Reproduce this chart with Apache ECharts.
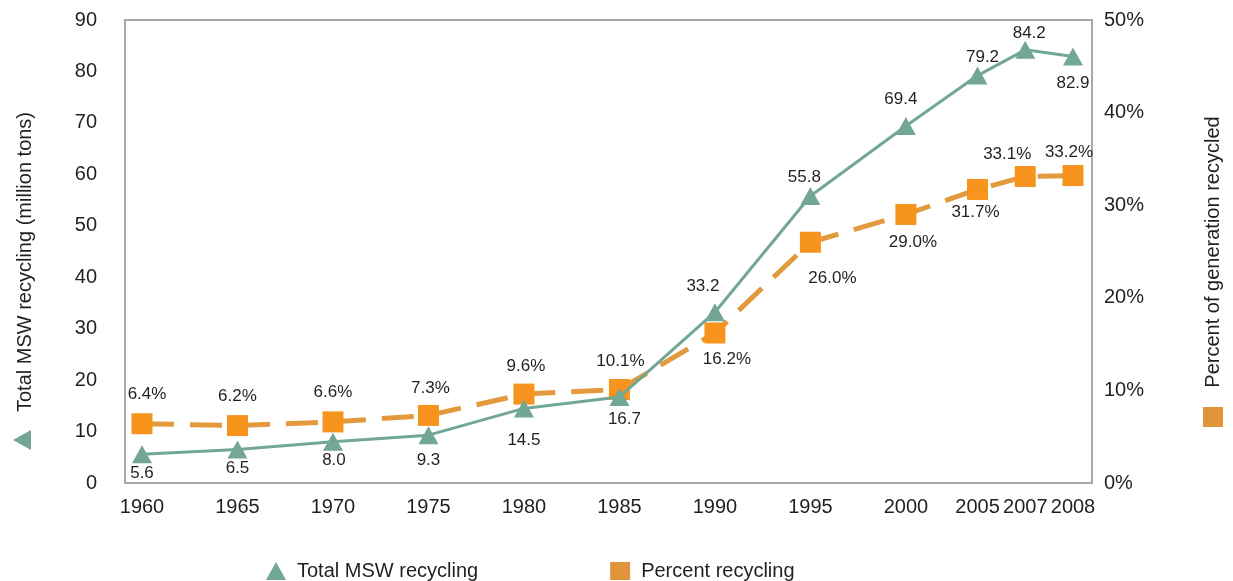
<!DOCTYPE html>
<html>
<head>
<meta charset="utf-8">
<script src="https://cdn.jsdelivr.net/npm/echarts@6/dist/echarts.min.js"></script>
<style>
html,body{margin:0;padding:0;background:#fff;}
#chart{width:1233px;height:581px;}
</style>
</head>
<body>
<div id="chart"></div>
<script>
// ---- data ----
const years = ['1960','1965','1970','1975','1980','1985','1990','1995','2000','2005','2007','2008'];
const totalMSW = [5.6, 6.5, 8.0, 9.3, 14.5, 16.7, 33.2, 55.8, 69.4, 79.2, 84.2, 82.9];
const pctRecycled = [6.4, 6.2, 6.6, 7.3, 9.6, 10.1, 16.2, 26.0, 29.0, 31.7, 33.1, 33.2];
const leftTicks = [0, 90, 10];   // min, max, interval
const rightTicks = [0, 50, 10];  // min, max, interval (%)

// ---- layout (not data) ----
// slot units between consecutive categories, to mimic the uneven spacing of the original
const slotGaps = [4,4,4,4,4,4,4,4,3,2,2];
const totalLabelOffset = [[0,19],[0,19],[1,18],[0,25],[0,32],[5,22],[-12,-26],[-6,-19],[-5,-27],[5,-18],[4,-17],[0,27]];
const pctLabelOffset = [[5,-29],[0,-29],[0,-30],[2,-27],[2,-28],[1,-28],[12,26],[22,36],[7,28],[-2,23],[-18,-22],[-4,-23]];

const TXT = '#231f20';
const FONT = "'Liberation Sans', Arimo, Arial, sans-serif";
const GREEN = '#72a795';
const ORANGE = '#f7941d';
const ORANGE_LINE = '#e39a3c';

// build padded category axis
const axisCats = [];
const totalData = [];
const pctData = [];
years.forEach((y, i) => {
  axisCats.push(y);
  totalData.push({value: totalMSW[i], label: {offset: totalLabelOffset[i]}});
  pctData.push({value: pctRecycled[i], label: {offset: pctLabelOffset[i]}});
  if (i < slotGaps.length) {
    for (let k = 1; k < slotGaps[i]; k++) {
      axisCats.push('_' + y + '_' + k);
      totalData.push('-');
      pctData.push('-');
    }
  }
});

const chart = echarts.init(document.getElementById('chart'), null, {renderer: 'canvas'});
chart.setOption({
  animation: false,
  backgroundColor: '#fff',
  textStyle: {fontFamily: FONT, color: TXT},
  grid: {left: 142, right: 160, top: 20, bottom: 98},
  legend: {
    left: 261, top: 556,
    itemWidth: 20, itemHeight: 18, itemGap: 132,
    textStyle: {fontSize: 20, color: TXT, fontFamily: FONT, padding: [0,0,0,6]},
    data: [
      {name: 'Total MSW recycling', icon: 'triangle', itemStyle: {color: GREEN}},
      {name: 'Percent recycling', icon: 'rect', itemStyle: {color: '#e0953a'}}
    ]
  },
  xAxis: {
    type: 'category',
    data: axisCats,
    boundaryGap: false,
    axisLine: {show: false},
    axisTick: {show: false},
    splitLine: {show: false},
    axisLabel: {
      interval: (idx, val) => !String(val).startsWith('_'),
      formatter: v => String(v).startsWith('_') ? '' : v,
      margin: 14, fontSize: 20, color: TXT, fontFamily: FONT
    }
  },
  yAxis: [
    {
      type: 'value', min: leftTicks[0], max: leftTicks[1], interval: leftTicks[2],
      axisLine: {show: false}, axisTick: {show: false}, splitLine: {show: false},
      axisLabel: {margin: 45, fontSize: 20, color: TXT, fontFamily: FONT}
    },
    {
      type: 'value', min: rightTicks[0], max: rightTicks[1], interval: rightTicks[2],
      position: 'right',
      axisLine: {show: false}, axisTick: {show: false}, splitLine: {show: false},
      axisLabel: {margin: 31, fontSize: 20, color: TXT, fontFamily: FONT, formatter: '{value}%'}
    }
  ],
  graphic: [
    {type: 'rect', z: 0, shape: {x: 125, y: 20, width: 967, height: 463},
     style: {fill: 'none', stroke: '#a6a8ab', lineWidth: 2}},
    {type: 'text', x: 25, y: 262, rotation: Math.PI/2,
     style: {text: 'Total MSW recycling (million tons)', font: "20px 'Liberation Sans', Arial, sans-serif", fill: TXT, align: 'center', verticalAlign: 'middle'}},
    {type: 'polygon', shape: {points: [[13,440],[31,430],[31,450]]}, style: {fill: GREEN}},
    {type: 'text', x: 1213, y: 252, rotation: Math.PI/2,
     style: {text: 'Percent of generation recycled', font: "20px 'Liberation Sans', Arial, sans-serif", fill: TXT, align: 'center', verticalAlign: 'middle'}},
    {type: 'rect', shape: {x: 1203, y: 407, width: 20, height: 20}, style: {fill: '#e0953a'}}
  ],
  series: [
    {
      name: 'Percent recycling',
      type: 'line',
      yAxisIndex: 1,
      z: 2,
      data: pctData,
      connectNulls: true,
      symbol: 'rect',
      symbolSize: 21,
      itemStyle: {color: ORANGE},
      lineStyle: {color: ORANGE_LINE, width: 5, type: [32, 16], cap: 'butt'},
      label: {
        show: true, position: 'inside',
        formatter: p => p.value.toFixed(1) + '%',
        fontSize: 17, color: TXT, fontFamily: FONT
      },
      emphasis: {disabled: true}
    },
    {
      name: 'Total MSW recycling',
      type: 'line',
      yAxisIndex: 0,
      z: 3,
      data: totalData,
      connectNulls: true,
      symbol: 'triangle',
      symbolSize: [20, 18],
      itemStyle: {color: GREEN},
      lineStyle: {color: GREEN, width: 3},
      label: {
        show: true, position: 'inside',
        formatter: p => p.value.toFixed(1),
        fontSize: 17, color: TXT, fontFamily: FONT
      },
      emphasis: {disabled: true}
    }
  ]
});
</script>
</body>
</html>
